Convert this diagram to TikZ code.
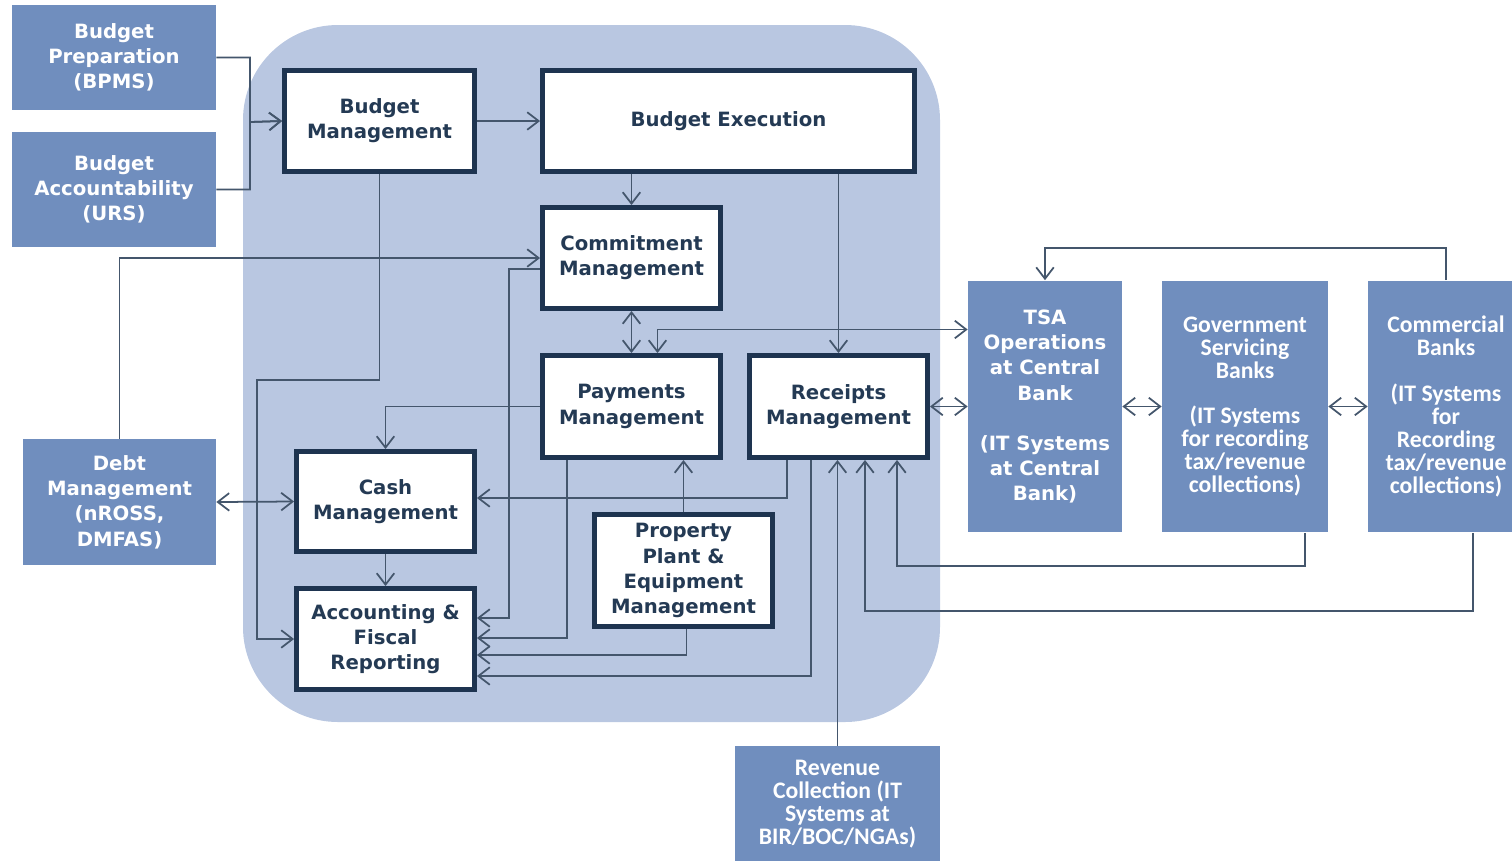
\documentclass[tikz,border=0pt]{standalone}
\usepackage{fontspec}
\setmainfont{DejaVu Sans}
\newfontfamily\calfont{Carlito}
\usetikzlibrary{arrows.meta}
\usetikzlibrary{calc}
\definecolor{boxblue}{RGB}{112,142,190}
\definecolor{panel}{RGB}{185,199,225}
\definecolor{rim}{RGB}{30,52,80}
\definecolor{ink}{RGB}{36,58,84}
\definecolor{wire}{RGB}{68,86,108}
\tikzset{
  sysbox/.style={fill=boxblue,text=white,align=center,inner sep=2pt,font=\bfseries\fontsize{11.2}{14.4}\selectfont},
  bankbox/.style={sysbox,font=\calfont\bfseries\fontsize{13.5}{13.1}\selectfont},
  modbox/.style={draw=rim,fill=white,line width=2.8pt,text=ink,align=center,inner sep=2pt,font=\bfseries\fontsize{11.2}{14.3}\selectfont},
  wireline/.style={draw=wire,line width=1pt},
}
\begin{document}
\begin{tikzpicture}[x=0.02cm,y=-0.02cm,>={Straight Barb[length=6.5pt,width=10pt]}]
\useasboundingbox (0,0) rectangle (1512,860);
\fill[panel,rounded corners=1.9cm] (243,25) rectangle (940,722);
\node[sysbox,minimum width=4.08cm,minimum height=2.1cm] (prep) at (114,57.5) {Budget\\Preparation\\(BPMS)};
\node[sysbox,minimum width=4.08cm,minimum height=2.3cm] (acct) at (114,189.5) {Budget\\Accountability\\(URS)};
\node[sysbox,minimum width=3.86cm,minimum height=2.52cm] (debt) at (119.5,502) {Debt\\Management\\(nROSS,\\DMFAS)};
\node[sysbox,minimum width=3.08cm,minimum height=5.04cm] (tsa) at (1045,406.5) {TSA\\Operations\\at Central\\Bank\\[14pt](IT Systems\\at Central\\Bank)};
\node[bankbox,minimum width=3.32cm,minimum height=5.04cm] (gsb) at (1245,406.5) {Government\\Servicing\\Banks\\[13pt](IT Systems\\for recording\\tax/revenue\\collections)};
\node[bankbox,minimum width=3.12cm,minimum height=5.04cm] (comm) at (1446,406.5) {Commercial\\Banks\\[13pt](IT Systems\\for\\Recording\\tax/revenue\\collections)};
\node[bankbox,minimum width=4.1cm,minimum height=2.32cm] (rev) at (837.5,804) {Revenue\\Collection (IT\\Systems at\\BIR/BOC/NGAs)};
\node[modbox,minimum width=3.8cm,minimum height=2.02cm] (bm) at (379.5,121) {Budget\\Management};
\node[modbox,minimum width=7.44cm,minimum height=2.02cm] (be) at (728.5,121) {Budget Execution};
\node[modbox,minimum width=3.56cm,minimum height=2.02cm] (cm) at (631.5,258) {Commitment\\Management};
\node[modbox,minimum width=3.56cm,minimum height=2.04cm] (pm) at (631.5,406.5) {Payments\\Management};
\node[modbox,minimum width=3.56cm,minimum height=2.04cm] (rm) at (838.5,406.5) {Receipts\\Management};
\node[modbox,minimum width=3.56cm,minimum height=2cm] (cash) at (385.5,501.5) {Cash\\Management};
\node[modbox,minimum width=3.56cm,minimum height=2.02cm] (afr) at (385.5,639) {Accounting \&\\Fiscal\\Reporting};
\node[modbox,minimum width=3.56cm,minimum height=2.24cm] (ppe) at (683.5,570.5) {Property\\Plant \&\\Equipment\\Management};
\coordinate (jn) at (250,122);
\coordinate (k1) at (257,380);
\draw[wireline,->] (prep.east) -| (jn) -- (bm.west);
\draw[wireline,->] (acct.east) -| (jn) -- (bm.west);
\draw[wireline,->] (bm.east) -- (be.west);
\draw[wireline,->] (be.south -| cm.north) -- (cm.north);
\draw[wireline,->] (be.south -| rm.north) -- (rm.north);
\draw[wireline,->] (bm.south) |- (k1) |- (afr.west);
\draw[wireline,->] (debt.north) |- (cm.west);
\draw[wireline,->] ($(cm.west)+(0,11)$) -| ($(afr.east)+(32,-21)$) -- ($(afr.east)+(0,-21)$);
\draw[wireline,<->] (cm.south) -- (pm.north);
\draw[wireline,<->] ($(pm.north)+(26,0)$) |- ($(tsa.west)+(0,-77)$);
\draw[wireline,->] (pm.west) -| (cash.north);
\draw[wireline,<->] (debt.east) -- (cash.west);
\draw[wireline,->] ($(rm.south)+(-51.5,0)$) |- ($(cash.east)+(0,-3.5)$);
\draw[wireline,->] (cash.south) -- (afr.north);
\draw[wireline,->] ($(pm.south)+(-64.5,0)$) |- ($(afr.east)+(0,-1)$);
\draw[wireline,->] ($(ppe.south)+(3,0)$) |- ($(afr.east)+(0,16)$);
\draw[wireline,->] (ppe.north) -- (ppe.north |- pm.south);
\draw[wireline,->] ($(rm.south)+(-27.5,0)$) |- ($(afr.east)+(0,37)$);
\draw[wireline,->] (rev.north) -- (rev.north |- rm.south);
\draw[wireline,<->] (rm.east) -- (tsa.west);
\draw[wireline,<->] (tsa.east) -- (gsb.west);
\draw[wireline,<->] (gsb.east) -- (comm.west);
\draw[wireline,->] (comm.north) -- ++(0,-32) -| (tsa.north);
\draw[wireline,->] ($(gsb.south)+(60,0)$) -- ++(0,33) -| ($(rm.south)+(58.5,0)$);
\draw[wireline,->] ($(comm.south)+(27,0)$) -- ++(0,78) -| ($(rm.south)+(26.5,0)$);
\end{tikzpicture}
\end{document}
